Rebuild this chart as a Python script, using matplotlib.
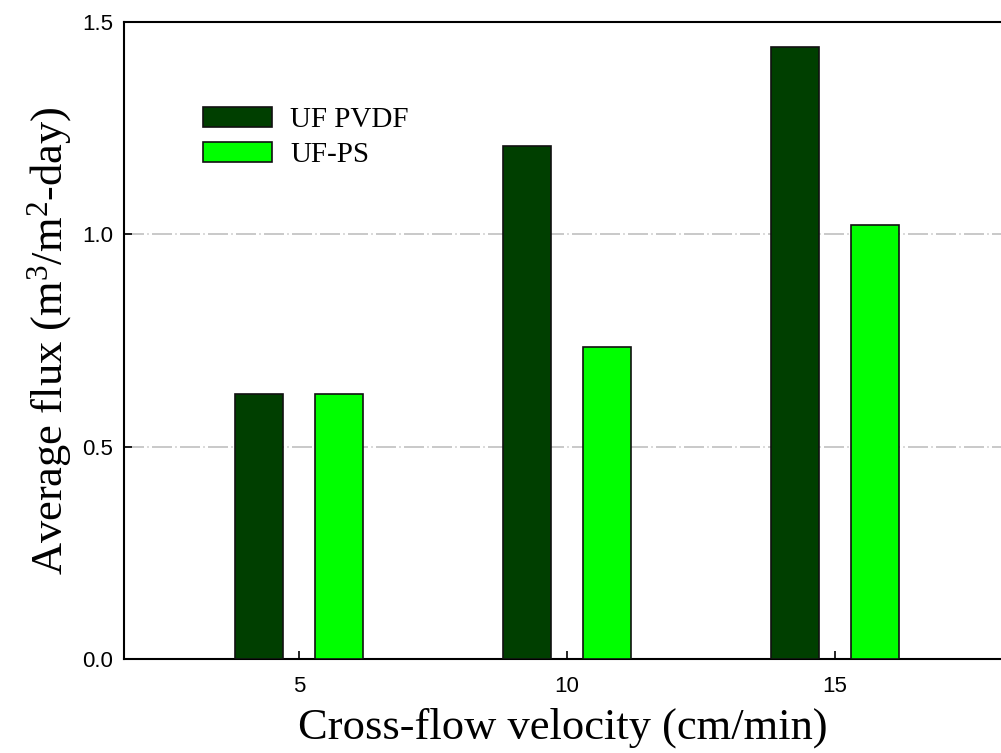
import numpy as np
import matplotlib
matplotlib.use("Agg")
import matplotlib.pyplot as plt

# Average flux per cross-flow velocity for both membranes
velocity = [5, 10, 15]
flux_pvdf = [0.625, 1.209, 1.441]
flux_ps = [0.623, 0.734, 1.023]
series_labels = ["UF PVDF", "UF-PS"]

SERIF = "Liberation Serif"
SANS = "Liberation Sans"

plt.rcParams["mathtext.fontset"] = "custom"
plt.rcParams["mathtext.rm"] = SERIF
plt.rcParams["mathtext.it"] = SERIF + ":italic"

fig = plt.figure(figsize=(10.01, 7.53), dpi=100)
ax = fig.add_axes([0.1239, 0.1248, 0.8761, 0.846])

x = np.array(velocity, dtype=float)
width = 0.9
ax.bar(x - 0.75, flux_pvdf, width, color="#003f00", edgecolor="#111111",
       linewidth=1.2, label=series_labels[0], zorder=3)
ax.bar(x + 0.75, flux_ps, width, color="#00ff00", edgecolor="#111111",
       linewidth=1.2, label=series_labels[1], zorder=3)

# dashed reference lines
for yv in [0.5, 1.0]:
    ax.axhline(yv, color="#c0c0c0", linewidth=1.2, dashes=(12, 2, 0.8, 2), zorder=1)

ax.set_xlim(1.735, 18.1)
ax.set_ylim(0, 1.5)
ax.set_xticks(velocity)
ax.set_yticks([0.0, 0.5, 1.0, 1.5])
ax.set_yticklabels(["0.0", "0.5", "1.0", "1.5"])
ax.tick_params(direction="in", length=6, width=1.2, labelsize=16)
ax.tick_params(axis="y", pad=8)
ax.tick_params(axis="x", pad=12)
for lab in ax.get_xticklabels() + ax.get_yticklabels():
    lab.set_fontfamily(SANS)

for side in ["left", "bottom", "top"]:
    ax.spines[side].set_linewidth(1.5)
ax.spines["right"].set_visible(False)

ax.set_xlabel("Cross-flow velocity (cm/min)", fontfamily=SERIF, fontsize=32, labelpad=8)
ax.set_ylabel("Average flux (m$^3$/m$^2$-day)", fontfamily=SERIF, fontsize=32, labelpad=6)

leg = ax.legend(loc="upper left", bbox_to_anchor=(0.0766, 0.885), frameon=False,
                prop={"family": SERIF, "size": 21}, handlelength=2.38,
                handleheight=0.66, labelspacing=0.31, handletextpad=0.62,
                borderaxespad=0)

fig.savefig("out.png", dpi=100)
